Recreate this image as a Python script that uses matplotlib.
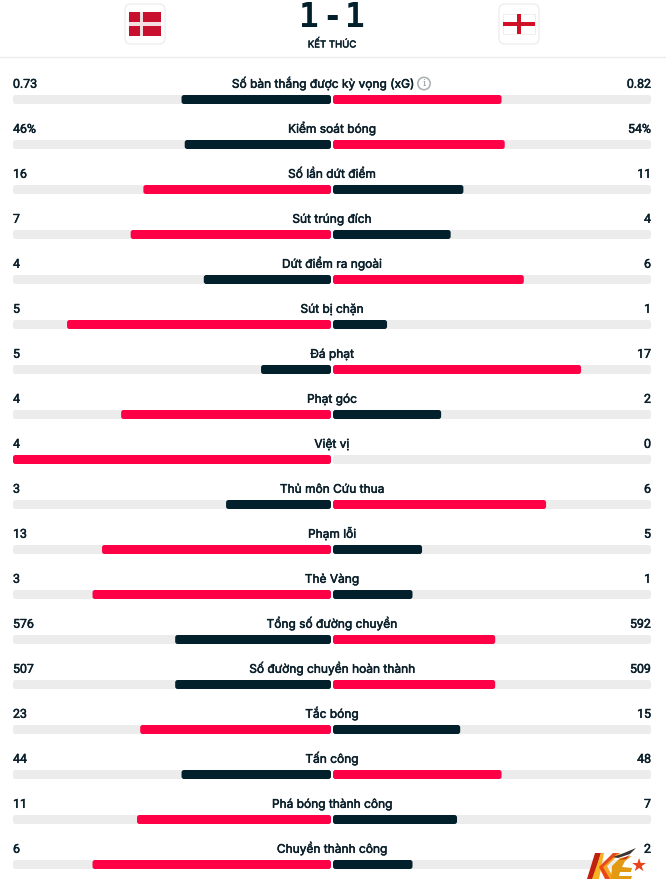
import math
import matplotlib
matplotlib.use("Agg")
import matplotlib.pyplot as plt
import matplotlib.patheffects as pe
from matplotlib.patches import FancyBboxPatch, Rectangle, Circle, Polygon

labels = ["Số bàn thắng được kỳ vọng (xG)", "Kiểm soát bóng", "Số lần dứt điểm", "Sút trúng đích",
          "Dứt điểm ra ngoài", "Sút bị chặn", "Đá phạt", "Phạt góc", "Việt vị", "Thủ môn Cứu thua",
          "Phạm lỗi", "Thẻ Vàng", "Tổng số đường chuyền", "Số đường chuyền hoàn thành", "Tắc bóng",
          "Tấn công", "Phá bóng thành công", "Chuyền thành công"]
home = [0.73, 46, 16, 7, 4, 5, 5, 4, 4, 3, 13, 3, 576, 507, 23, 44, 11, 6]
away = [0.82, 54, 11, 4, 6, 1, 17, 2, 0, 6, 5, 1, 592, 509, 15, 48, 7, 2]
home_text = ["0.73", "46%", "16", "7", "4", "5", "5", "4", "4", "3", "13", "3", "576", "507", "23", "44", "11", "6"]
away_text = ["0.82", "54%", "11", "4", "6", "1", "17", "2", "0", "6", "5", "1", "592", "509", "15", "48", "7", "2"]
score = ["1", "-", "1"]
status = "KẾT THÚC"

DARK, RED, TRACK, INK = "#02202b", "#ff0046", "#ececec", "#0a1f2a"
FONT = ["Inter", "DejaVu Sans"]
BOLDEN = [pe.withStroke(linewidth=0.35, foreground=INK)]

fig = plt.figure(figsize=(6.66, 8.88), dpi=100)
ax = fig.add_axes([0, 0, 1, 1])
ax.set_xlim(0, 666); ax.set_ylim(888, 0); ax.axis("off")

def rbox(x0, x1, y0, y1, color, r=2.5, z=2, ec="none", lw=0):
    p = FancyBboxPatch((x0 + r, y0 + r), x1 - x0 - 2 * r, y1 - y0 - 2 * r,
                       boxstyle=f"round,pad={r},rounding_size={r}", fc=color, ec=ec, lw=lw, zorder=z)
    ax.add_patch(p)

L0, L1, R0, R1 = 13, 331, 333, 651
W = L1 - L0
for i, (lab, h, a, ht, at) in enumerate(zip(labels, home, away, home_text, away_text)):
    yt = 87.8 + 45 * i
    yb0 = 95 + 45 * i
    yb1 = yb0 + 9
    rbox(L0, L1, yb0, yb1, TRACK, z=1)
    rbox(R0, R1, yb0, yb1, TRACK, z=1)
    # the source page floors the home share to a whole percent
    pct = math.floor(100 * h / (h + a) + 1e-9)
    hl, al = W * pct / 100, W * (100 - pct) / 100
    hc, ac = (RED, DARK) if h > a else (DARK, RED)
    if hl > 0:
        rbox(L1 - hl, L1, yb0, yb1, hc)
    if al > 0:
        rbox(R0, R0 + al, yb0, yb1, ac)
    cx = 323 if i == 0 else 332
    ax.text(cx, yt, lab, ha="center", va="baseline", fontsize=8.6, family=FONT, color=INK, path_effects=BOLDEN)
    ax.text(L0, yt, ht, ha="left", va="baseline", fontsize=8.9, family="Roboto", color=INK, path_effects=BOLDEN)
    ax.text(R1, yt, at, ha="right", va="baseline", fontsize=8.9, family="Roboto", color=INK, path_effects=BOLDEN)

# xG info icon
ax.add_patch(Circle((424, 83.5), 6.2, fc="white", ec="#a9aeb1", lw=1.1, zorder=3))
ax.text(424, 83.5, "i", ha="center", va="center", fontsize=7, family="DejaVu Serif", color="#8d9396", zorder=4)

# header
for s, x in zip(score, [309, 332.5, 355]):
    ax.text(x, 27, s, ha="center", va="baseline", fontsize=23.5, family="DejaVu Sans Mono", weight="bold", color=DARK)
ax.text(332, 44.5, status, ha="center", va="center", fontsize=6.9, family=FONT, color=INK, path_effects=BOLDEN)
ax.plot([0, 666], [57.5, 57.5], color="#ececec", lw=1)

# team badges
rbox(125, 165, 4, 44, "white", r=6, z=1, ec="#eeeeee", lw=1)
rbox(499, 539, 4, 44, "white", r=6, z=1, ec="#eeeeee", lw=1)
ax.add_patch(Rectangle((129, 12), 32, 24, fc="#c8102e", zorder=2))
ax.add_patch(Rectangle((139.5, 12), 3.2, 24, fc="#f3dfe2", zorder=3))
ax.add_patch(Rectangle((129, 22.3), 32, 3.4, fc="#f3dfe2", zorder=3))
ax.add_patch(Rectangle((503, 14), 32, 20, fc="white", ec="#e8e8e8", lw=0.5, zorder=2))
ax.add_patch(Rectangle((517, 14), 4.4, 20, fc="#ce1126", zorder=3))
ax.add_patch(Rectangle((503, 22), 32, 4, fc="#ce1126", zorder=3))

# watermark
wm = [
    ([[612, 880], [640, 880], [652, 872], [652, 858], [632, 858], [612, 868]], "white"),
    ([[587, 879], [595, 853], [601, 853], [597, 866], [594, 879]], "#c2200f"),
    ([[592, 879], [598, 862], [601, 853], [604, 853], [599, 879]], "#f6b21f"),
    ([[599, 867], [613, 853], [620, 853], [606, 866], [614, 879], [605, 879]], "#e8481a"),
    ([[603, 867], [617, 854], [620, 853], [607, 866], [614, 879], [610, 879]], "#f4a41d"),
    ([[612, 866], [620, 858], [632, 856], [625, 861], [622, 867], [632, 868], [631, 872], [620, 872], [619, 876], [632, 876], [631, 879], [611, 879]], "#e29a13"),
    ([[613, 857], [624, 853], [636, 848], [630, 854], [618, 858]], "#3a3433"),
    ([[619, 860], [630, 855], [626, 859]], "#d2231d"),
]
for pts, col in wm:
    ax.add_patch(Polygon(pts, fc=col, ec="none", zorder=6))
ax.add_patch(Circle((636, 873), 5, fc="white", zorder=6))
ax.text(639, 865.5, "★", ha="center", va="center", fontsize=13, color="#e8431c", family="DejaVu Sans", zorder=7)

fig.savefig("out.png", dpi=100)
